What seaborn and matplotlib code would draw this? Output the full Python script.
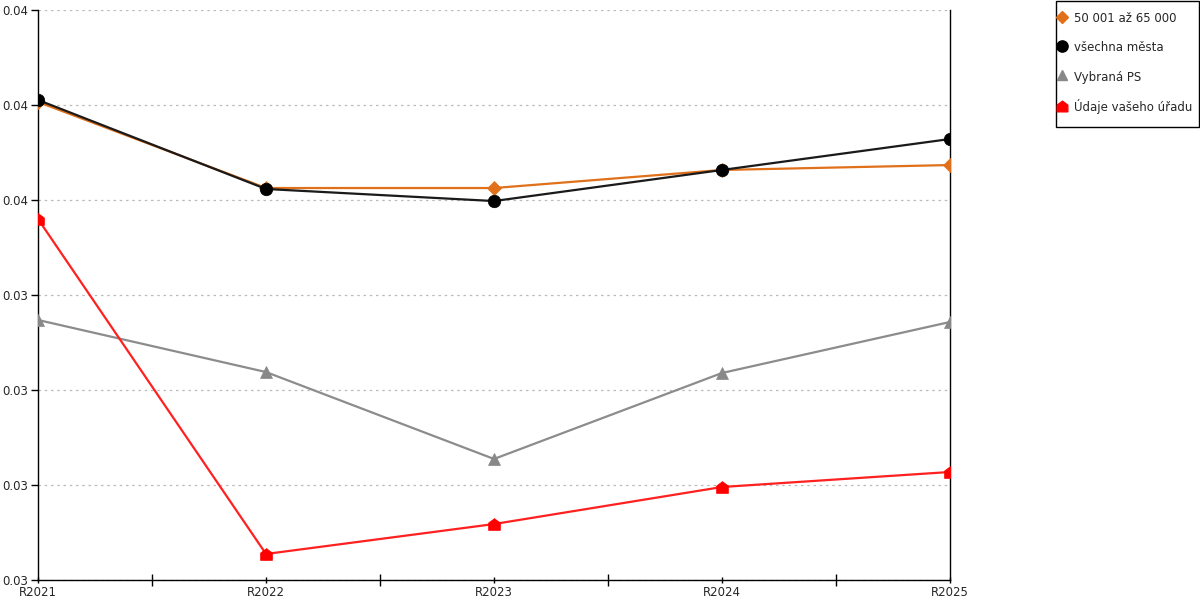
import matplotlib
matplotlib.use("Agg")
import matplotlib.pyplot as plt
from matplotlib.path import Path
from matplotlib.patches import Rectangle
from matplotlib.ticker import FixedLocator
import seaborn as sns
import pandas as pd

years = ["R2021", "R2022", "R2023", "R2024", "R2025"]
series_names = ["50 001 až 65 000", "všechna města", "Vybraná PS", "Údaje vašeho úřadu"]
orange_vals = [0.036532, 0.035626, 0.035626, 0.035816, 0.035868]
black_vals = [0.036553, 0.035616, 0.035489, 0.035816, 0.036142]
gray_vals = [0.034237, 0.033689, 0.032774, 0.033679, 0.034216]
red_vals = [0.035300, 0.031774, 0.032089, 0.032479, 0.032637]
y_ticks = [0.0315, 0.0325, 0.0335, 0.0345, 0.0355, 0.0365, 0.0375]
y_tick_labels = ["0.03", "0.03", "0.03", "0.03", "0.04", "0.04", "0.04"]

house = Path([(-1, -1), (1, -1), (1, 0.25), (0, 1), (-1, 0.25), (-1, -1)],
             [Path.MOVETO, Path.LINETO, Path.LINETO, Path.LINETO, Path.LINETO, Path.CLOSEPOLY])

colors = ["#E0701A", "#000000", "#888888", "#FF0000"]
line_colors = ["#E0701A", "#1a1a1a", "#8c8c8c", "#FF2020"]
markers = ["D", "o", "^", house]
msizes = [7, 9, 8.5, 8.5]

sns.set_style("white")
plt.rcParams['font.family'] = ['DejaVu Sans']

fig = plt.figure(figsize=(12, 6), dpi=100)
ax = fig.add_axes([38 / 1200, 20 / 600, (950 - 38) / 1200, (580 - 10) / 600])

all_vals = [orange_vals, black_vals, gray_vals, red_vals]
handles = []
for name, vals, c, lc, m, ms in zip(series_names, all_vals, colors, line_colors, markers, msizes):
    df = pd.DataFrame({"x": list(range(len(years))), "y": vals})
    sns.lineplot(data=df, x="x", y="y", ax=ax, color=lc, lw=1.6, marker=m,
                 markersize=ms, markerfacecolor=c, markeredgecolor=c, markeredgewidth=0.5,
                 zorder=3, legend=False)
    h = plt.Line2D([], [], ls="none", marker=m, markersize=ms * 0.9, color=c, label=name)
    handles.append(h)

if ax.get_legend() is not None:
    ax.get_legend().remove()

ax.set_xlim(0, len(years) - 1)
ax.set_ylim(y_ticks[0], y_ticks[-1])
ax.set_xticks(range(len(years)))
ax.set_xticklabels(years)
ax.xaxis.set_minor_locator(FixedLocator([i + 0.5 for i in range(len(years) - 1)]))
ax.set_yticks(y_ticks)
ax.set_yticklabels(y_tick_labels)
ax.set_xlabel("")
ax.set_ylabel("")

ax.tick_params(axis="x", which="major", direction="inout", length=5, width=1, color="black",
               labelsize=8.5, pad=2, bottom=True)
ax.tick_params(axis="x", which="minor", direction="inout", length=9, width=1, color="black", bottom=True)
ax.tick_params(axis="y", which="major", direction="out", length=5, width=1, color="black",
               labelsize=8.5, pad=2, left=True)

ax.grid(axis="y", color="#bbbbbb", linestyle=(0, (2, 3)), lw=0.9)
ax.grid(axis="x", visible=False)
for s in ["left", "bottom", "right"]:
    ax.spines[s].set_visible(True)
    ax.spines[s].set_color("black")
    ax.spines[s].set_linewidth(1)
ax.spines["top"].set_visible(False)

leg = fig.legend(handles=handles, loc="upper left", bbox_to_anchor=(1057 / 1200, 1 - 11 / 600),
                 frameon=False, fontsize=8.5, handlelength=0.9, handleheight=1.5,
                 handletextpad=0.5, labelspacing=1.27, borderpad=0, borderaxespad=0)

fig.patches.append(Rectangle((1055.5 / 1200, 1 - 127 / 600), 143 / 1200, 126.5 / 600,
                             transform=fig.transFigure, fill=False, edgecolor="black", lw=1))

fig.savefig("out.png", dpi=100)
